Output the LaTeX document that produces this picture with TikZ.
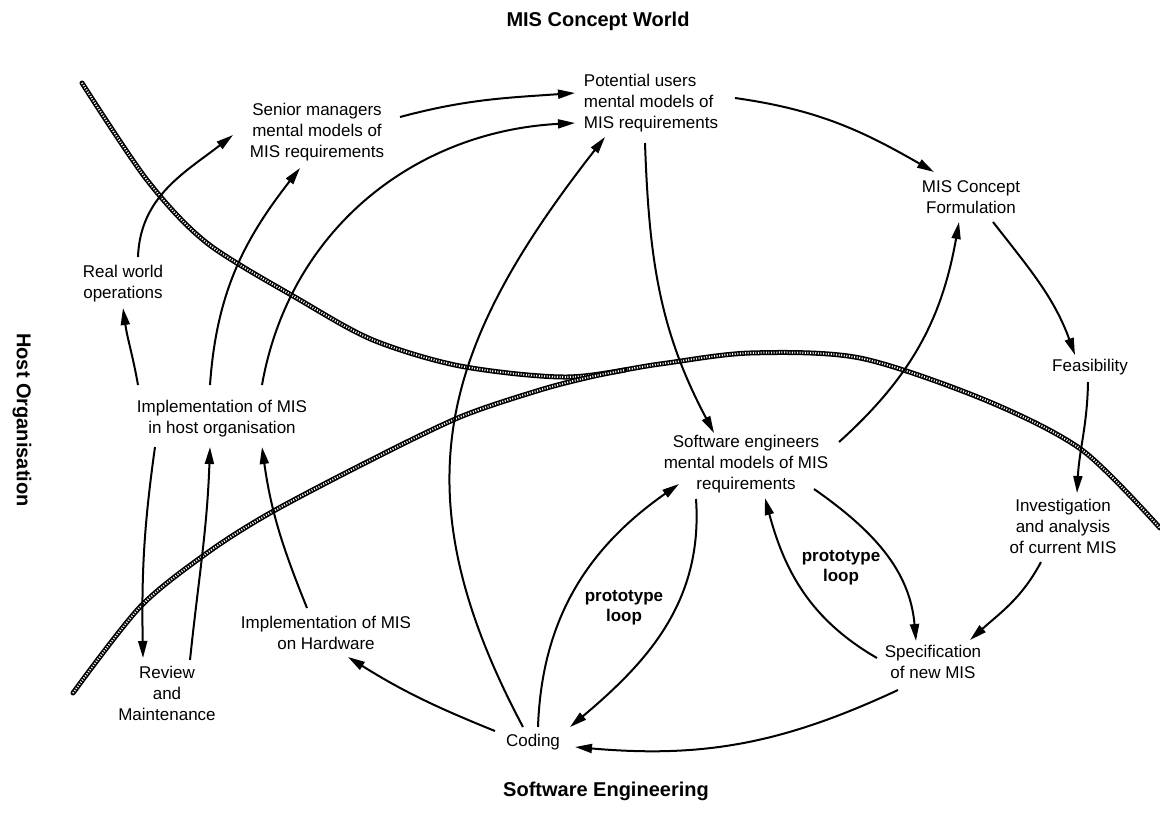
\documentclass[tikz,border=0pt]{standalone}
\usepackage{fontspec}
\setmainfont{Liberation Sans}
\usetikzlibrary{arrows.meta}
\tikzset{
  txt/.style={align=center, inner sep=0pt, font=\fontsize{17}{21}\selectfont},
  ttl/.style={inner sep=0pt, font=\fontsize{20}{24}\selectfont\bfseries},
  loopnote/.style={align=center, inner sep=0pt, font=\fontsize{17}{20}\selectfont\bfseries},
  link/.style={line width=2pt, -{Triangle[length=17pt,width=9pt]}},
  border/.style={line width=5pt, line cap=round, postaction={draw=white, line cap=butt, line width=2pt, dash pattern=on 1pt off 1.6pt}},
}

\begin{document}
\begin{tikzpicture}[x=1pt, y=1pt]
    \useasboundingbox (0,0) rectangle (1160,-823);
    % boundaries between the three worlds
    \draw[border] plot[smooth] coordinates {(82,-83) (147,-180) (207,-243) (300,-300) (373,-340) (460,-366) (567,-377) (660,-364) (750,-353) (860,-358) (985,-400) (1082,-450) (1160,-528)};
    \draw[border] plot[smooth] coordinates {(73,-693) (140,-607) (207,-553) (270,-513) (365,-463) (460,-417) (540,-390) (590,-377) (625,-370)};
    % titles
    \node[ttl] (worldttl) at (598,-21) {MIS Concept World};
    \node[ttl] (engttl) at (606,-791) {Software Engineering};
    \node[ttl, rotate=-90] (hostttl) at (22,-420) {Host Organisation};
    % nodes
    \node[txt] (senior) at (317,-132) {Senior managers\\mental models of\\MIS requirements};
    \node[txt, align=left] (potential) at (651,-103) {Potential users\\mental models of\\MIS requirements};
    \node[txt] (concept) at (971,-197) {MIS Concept\\Formulation};
    \node[txt] (realworld) at (123,-284) {Real world\\operations};
    \node[txt] (feas) at (1090,-367) {Feasibility};
    \node[txt] (implhost) at (222,-419) {Implementation of MIS\\in host organisation};
    \node[txt] (sweng) at (746,-464) {Software engineers\\mental models of MIS\\requirements};
    \node[txt] (invest) at (1063,-526) {Investigation\\and analysis\\of current MIS};
    \node[txt] (spec) at (933,-662) {Specification\\of new MIS};
    \node[loopnote] (protoR) at (841,-568) {prototype\\loop};
    \node[loopnote] (protoL) at (624,-608) {prototype\\loop};
    \node[txt] (implhw) at (326,-633) {Implementation of MIS\\on Hardware};
    \node[txt] (review) at (167,-693) {Review\\and\\Maintenance};
    \node[txt] (coding) at (533,-742) {Coding};
    % connectors
    \draw[link] ([xshift=15pt,yshift=27pt]realworld.center) to[out=88,in=218] ([xshift=-84pt,yshift=-3pt]senior.center);
    \draw[link] ([xshift=-84pt,yshift=34pt]implhost.center) to[out=100,in=-82] ([yshift=-24pt]realworld.center);
    \draw[link] ([xshift=-12pt,yshift=34pt]implhost.center) to[out=86,in=232] ([xshift=-17pt,yshift=-36pt]senior.center);
    \draw[link] ([xshift=40pt,yshift=34pt]implhost.center) to[out=80,in=183] ([xshift=-76pt,yshift=-20pt]potential.center);
    \draw[link] ([xshift=83pt,yshift=15pt]senior.center) to[out=15,in=184] ([xshift=-76pt,yshift=10pt]potential.center);
    \draw[link] ([xshift=84pt,yshift=5pt]potential.center) to[out=-8,in=150] ([xshift=-37pt,yshift=25pt]concept.center);
    \draw[link] ([xshift=22pt,yshift=-25pt]concept.center) to[out=-52,in=110] ([xshift=-15pt,yshift=12pt]feas.center);
    \draw[link] ([xshift=-2pt,yshift=-15pt]feas.center) to[out=-91,in=87] ([xshift=14pt,yshift=33pt]invest.center);
    \draw[link] ([xshift=-22pt,yshift=-36pt]invest.center) to[out=-118,in=42] ([xshift=37pt,yshift=22pt]spec.center);
    \draw[link] ([xshift=68pt,yshift=-25pt]sweng.center) to[out=-35,in=95] ([xshift=-17pt,yshift=21pt]spec.center);
    \draw[link] ([xshift=-56pt,yshift=4pt]spec.center) to[out=150,in=-75] ([xshift=19pt,yshift=-34pt]sweng.center);
    \draw[link] ([xshift=-50pt,yshift=-35pt]sweng.center) to[out=-86,in=40] ([xshift=37pt,yshift=15pt]coding.center);
    \draw[link] ([xshift=5pt,yshift=15pt]coding.center) to[out=88,in=215] ([xshift=-67pt,yshift=-20pt]sweng.center);
    \draw[link] ([xshift=-35pt,yshift=-28pt]spec.center) to[out=-155,in=-5] ([xshift=42pt,yshift=-5pt]coding.center);
    \draw[link] ([xshift=-10pt,yshift=15pt]coding.center) to[out=118,in=-128,looseness=1.15] ([xshift=-46pt,yshift=-34pt]potential.center);
    \draw[link] ([xshift=-38pt,yshift=11pt]coding.center) to[out=158,in=-32] ([xshift=22pt,yshift=-24pt]implhw.center);
    \draw[link] ([xshift=-19pt,yshift=25pt]implhw.center) to[out=112,in=-82] ([xshift=40pt,yshift=-28pt]implhost.center);
    \draw[link] ([xshift=23pt,yshift=33pt]review.center) to[out=84,in=-92] ([xshift=-12pt,yshift=-28pt]implhost.center);
    \draw[link] ([xshift=-67pt,yshift=-28pt]implhost.center) to[out=-98,in=91] ([xshift=-24pt,yshift=35pt]review.center);
    \draw[link] ([xshift=93pt,yshift=22pt]sweng.center) to[out=42,in=-100] ([xshift=-12pt,yshift=-25pt]concept.center);
    \draw[link] ([xshift=-6pt,yshift=-40pt]potential.center) to[out=-88,in=118] ([xshift=-32pt,yshift=31pt]sweng.center);
\end{tikzpicture}
\end{document}
